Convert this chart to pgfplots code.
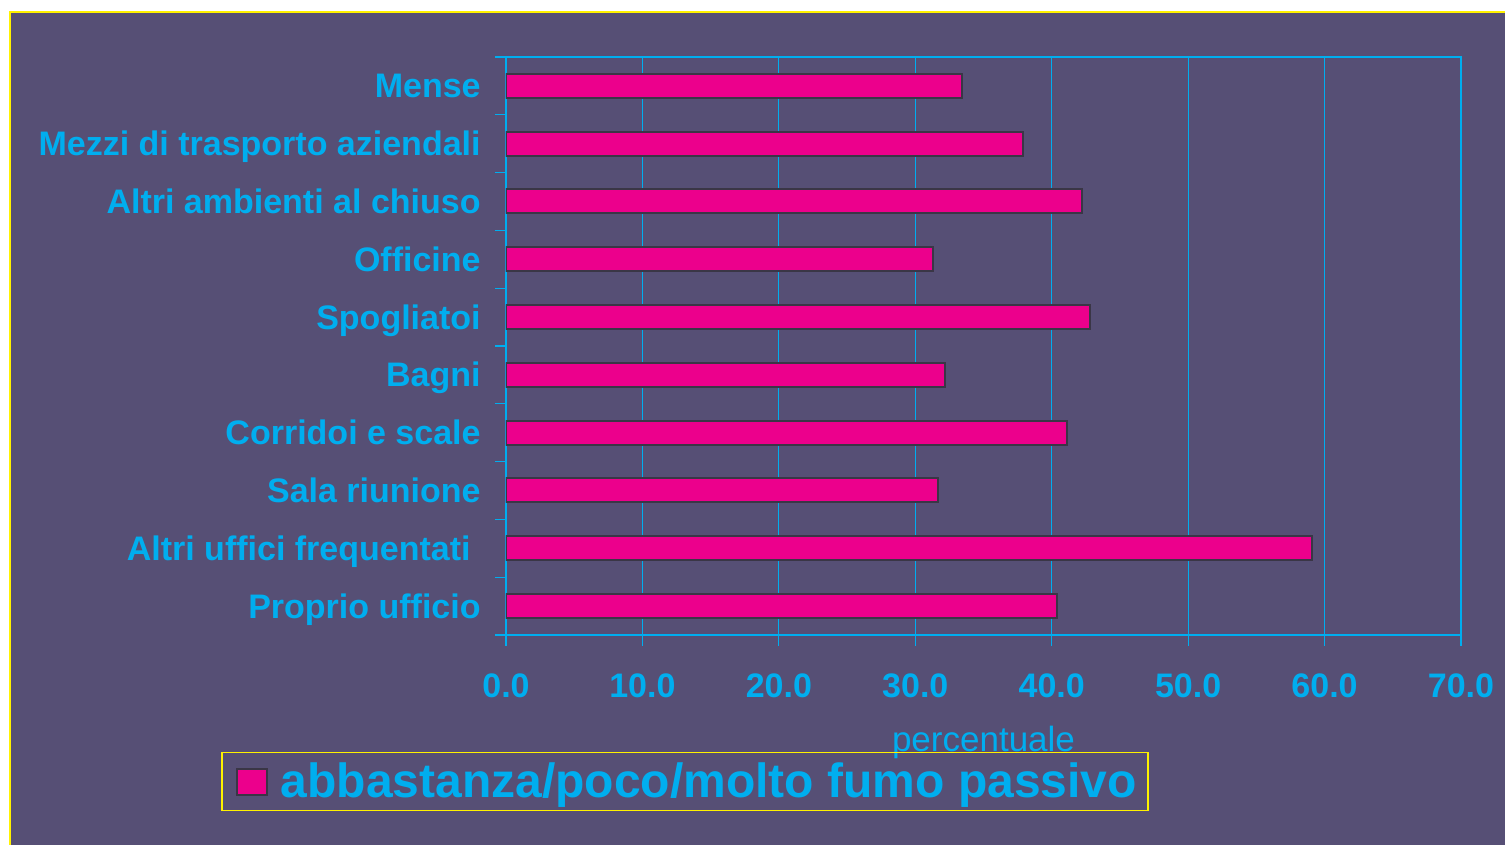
\documentclass[border=0pt]{standalone}
\usepackage{pgfplots}
\pgfplotsset{compat=1.18}
\usepackage{fontspec}
\setmainfont{Liberation Sans}
\definecolor{bgc}{RGB}{86,79,117}
\definecolor{cy}{RGB}{0,174,239}
\definecolor{mag}{RGB}{236,0,140}
\definecolor{yel}{RGB}{255,242,0}
\definecolor{barb}{RGB}{58,54,70}
\begin{document}
\begin{tikzpicture}
\useasboundingbox (0,0) rectangle (752.5pt,422.5pt);
\fill[white] (0,0) rectangle (752.5pt,422.5pt);
\fill[bgc] (5pt,0) rectangle (752.5pt,416.5pt);
\draw[yel, line width=1pt] (5pt,0) -- (5pt,416.5pt) -- (752.5pt,416.5pt);
\begin{axis}[
  scale only axis, width=477.5pt, height=289pt,
  at={(253pt,105pt)}, anchor=south west,
  xbar, bar width=12pt,
  xmin=0, xmax=70, ymin=-0.5, ymax=9.5,
  xtick={0,10,20,30,40,50,60,70},
  xticklabels={0.0,10.0,20.0,30.0,40.0,50.0,60.0,70.0},
  ytick={0,1,2,3,4,5,6,7,8,9},
  yticklabels={Proprio ufficio, Altri uffici frequentati\kern5pt, Sala riunione, Corridoi e scale, Bagni, Spogliatoi, Officine, Altri ambienti al chiuso, Mezzi di trasporto aziendali, Mense},
  minor ytick={-0.5,0.5,1.5,2.5,3.5,4.5,5.5,6.5,7.5,8.5,9.5},
  major y tick style={draw=none},
  minor tick length=5.5pt, major tick length=5.5pt,
  tick align=outside, xtick pos=bottom, ytick pos=left,
  axis line style={cy, line width=1pt},
  xmajorgrids, grid style={cy, line width=0.6pt},
  tick style={cy, line width=0.6pt},
  xticklabel style={font=\bfseries\fontsize{17}{17}\selectfont, text=cy, anchor=center, yshift=-20pt},
  yticklabel style={font=\bfseries\fontsize{17}{17}\selectfont, text=cy, anchor=base east, inner sep=0pt, xshift=-7pt, yshift=-6pt},
  xlabel={percentuale},
  xlabel style={font=\fontsize{17.5}{18}\selectfont, text=cy, at={(axis description cs:0.5,0)}, anchor=base, yshift=-58.5pt},
  legend style={at={(axis description cs:0.1874,-0.2535)}, anchor=center, draw=yel, fill=none, font=\bfseries\fontsize{24}{24}\selectfont, text=cy, inner xsep=7pt, inner ysep=3pt, line width=0.8pt},
  legend image code/.code={\draw[fill=mag, draw=barb, line width=1pt] (0pt,-6.5pt) rectangle (15pt,6.5pt);},
]
\addplot[fill=mag, draw=barb, line width=1pt] coordinates {(40.4,0) (59.1,1) (31.7,2) (41.1,3) (32.2,4) (42.8,5) (31.3,6) (42.2,7) (37.9,8) (33.4,9)};
\addlegendentry{\hspace{4.5pt}abbastanza/poco/molto fumo passivo\kern-3.5pt}
\end{axis}
\end{tikzpicture}
\end{document}
